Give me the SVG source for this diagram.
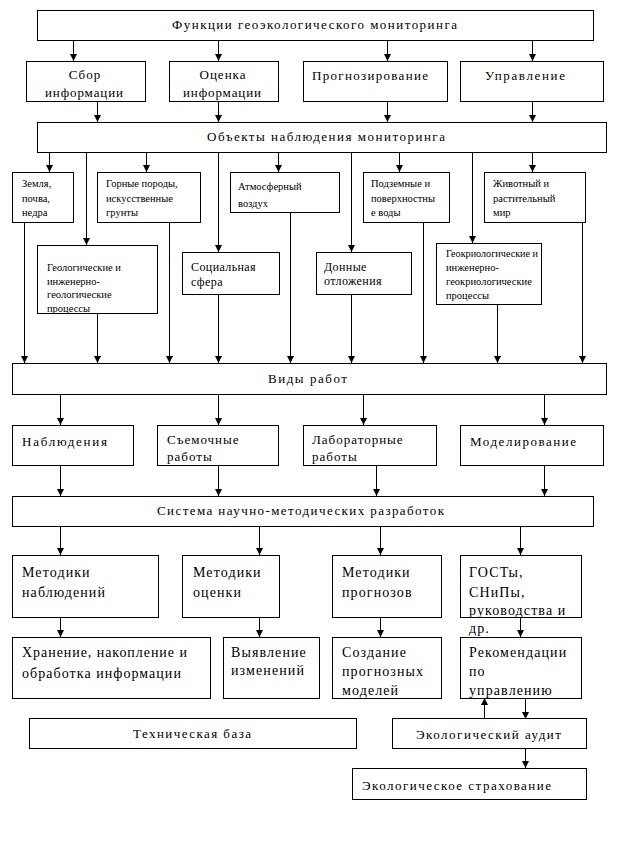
<svg xmlns="http://www.w3.org/2000/svg" width="619" height="851" viewBox="0 0 619 851" font-family="'Liberation Serif', 'DejaVu Serif', serif">
<style>
rect{fill:#fff;stroke:#000;stroke-width:1}
text{font-family:'Liberation Serif','DejaVu Serif',serif;fill:#000}
.m{font-size:13px;letter-spacing:1px}
.c{text-anchor:middle}
.s{font-size:10.5px;letter-spacing:0px}
.s12{font-size:12px;letter-spacing:0.4px}
.b{font-size:14px;letter-spacing:1.1px}
#connectors line{stroke:#000;stroke-width:1;marker-end:url(#arr)}
</style>
<defs>
<marker id="arr" viewBox="0 0 8 8" refX="8" refY="4" markerWidth="8" markerHeight="7" markerUnits="userSpaceOnUse" orient="auto">
<path d="M0,0 L8,4 L0,8 z" fill="#000"/>
</marker>
</defs>
<rect x="0" y="0" width="619" height="851" style="stroke:none"/>

<g id="connectors">
<line x1="73.5" y1="40" x2="73.5" y2="61"/>
<line x1="218.5" y1="40" x2="218.5" y2="61"/>
<line x1="387.5" y1="40" x2="387.5" y2="61"/>
<line x1="532.5" y1="40" x2="532.5" y2="61"/>
<line x1="97.5" y1="101" x2="97.5" y2="122"/>
<line x1="218.5" y1="101" x2="218.5" y2="122"/>
<line x1="387.5" y1="101" x2="387.5" y2="122"/>
<line x1="532.5" y1="101" x2="532.5" y2="122"/>
<line x1="49.5" y1="152" x2="49.5" y2="172"/>
<line x1="86.5" y1="152" x2="86.5" y2="245"/>
<line x1="146.5" y1="152" x2="146.5" y2="172"/>
<line x1="218.5" y1="152" x2="218.5" y2="252"/>
<line x1="278.5" y1="152" x2="278.5" y2="172"/>
<line x1="351.5" y1="152" x2="351.5" y2="252"/>
<line x1="399.5" y1="152" x2="399.5" y2="172"/>
<line x1="472.5" y1="152" x2="472.5" y2="243"/>
<line x1="532.5" y1="152" x2="532.5" y2="172"/>
<line x1="24.5" y1="222" x2="24.5" y2="363"/>
<line x1="97.5" y1="313" x2="97.5" y2="363"/>
<line x1="169.5" y1="222" x2="169.5" y2="363"/>
<line x1="218.5" y1="294" x2="218.5" y2="363"/>
<line x1="290.5" y1="212" x2="290.5" y2="363"/>
<line x1="351.5" y1="294" x2="351.5" y2="363"/>
<line x1="423.5" y1="222" x2="423.5" y2="363"/>
<line x1="497.5" y1="304" x2="497.5" y2="363"/>
<line x1="582.5" y1="222" x2="582.5" y2="363"/>
<line x1="60.5" y1="394" x2="60.5" y2="425"/>
<line x1="218.5" y1="394" x2="218.5" y2="425"/>
<line x1="363.5" y1="394" x2="363.5" y2="425"/>
<line x1="544.5" y1="394" x2="544.5" y2="425"/>
<line x1="60.5" y1="465" x2="60.5" y2="496"/>
<line x1="218.5" y1="465" x2="218.5" y2="496"/>
<line x1="376.5" y1="465" x2="376.5" y2="496"/>
<line x1="544.5" y1="465" x2="544.5" y2="496"/>
<line x1="60.5" y1="526" x2="60.5" y2="555"/>
<line x1="259.5" y1="526" x2="259.5" y2="555"/>
<line x1="380.5" y1="526" x2="380.5" y2="555"/>
<line x1="520.5" y1="526" x2="520.5" y2="555"/>
<line x1="60.5" y1="617" x2="60.5" y2="637"/>
<line x1="259.5" y1="617" x2="259.5" y2="637"/>
<line x1="380.5" y1="617" x2="380.5" y2="637"/>
<line x1="520.5" y1="617" x2="520.5" y2="637"/>
<line x1="525.5" y1="698" x2="525.5" y2="719"/>
<line x1="484.5" y1="719" x2="484.5" y2="698"/>
<line x1="525.5" y1="748" x2="525.5" y2="768"/>
</g>

<g id="n-functions"><rect x="37.5" y="10.5" width="556" height="30"/><text class="m" x="172" y="29" textLength="286" lengthAdjust="spacing">Функции геоэкологического мониторинга</text></g>
<g id="n-sbor"><rect x="26.5" y="61.5" width="119" height="40"/><text class="m c" x="85" y="79">Сбор</text><text class="m" x="45" y="97" textLength="79" lengthAdjust="spacing">информации</text></g>
<g id="n-ocenka"><rect x="169.5" y="61.5" width="109" height="40"/><text class="m c" x="223" y="79">Оценка</text><text class="m" x="183" y="97" textLength="79" lengthAdjust="spacing">информации</text></g>
<g id="n-prognoz"><rect x="303.5" y="61.5" width="144" height="40"/><text class="m" x="312" y="80" textLength="117" lengthAdjust="spacing">Прогнозирование</text></g>
<g id="n-uprav"><rect x="460.5" y="61.5" width="143" height="40"/><text class="m" x="485" y="80" textLength="81" lengthAdjust="spacing">Управление</text></g>
<g id="n-objects"><rect x="37.5" y="122.5" width="569" height="30"/><text class="m" x="207" y="141" textLength="239" lengthAdjust="spacing">Объекты наблюдения мониторинга</text></g>

<g id="n-zemlya"><rect x="12.5" y="172.5" width="61" height="50"/><text class="s"><tspan x="22" y="187">Земля,</tspan><tspan x="22" y="201.5">почва,</tspan><tspan x="22" y="216">недра</tspan></text></g>
<g id="n-gornye"><rect x="97.5" y="172.5" width="103" height="50"/><text class="s"><tspan x="106" y="187">Горные породы,</tspan><tspan x="106" y="201.5">искусственные</tspan><tspan x="106" y="216">грунты</tspan></text></g>
<g id="n-atm"><rect x="230.5" y="172.5" width="109" height="40"/><text class="s"><tspan x="238" y="190">Атмосферный</tspan><tspan x="238" y="207">воздух</tspan></text></g>
<g id="n-podz"><rect x="363.5" y="172.5" width="86" height="50"/><text class="s"><tspan x="371" y="187">Подземные и</tspan><tspan x="371" y="201.5">поверхностны</tspan><tspan x="371" y="216">е воды</tspan></text></g>
<g id="n-zhiv"><rect x="484.5" y="172.5" width="101" height="50"/><text class="s"><tspan x="493" y="187">Животный и</tspan><tspan x="493" y="201.5">растительный</tspan><tspan x="493" y="216">мир</tspan></text></g>
<g id="n-geol"><rect x="37.5" y="245.5" width="120" height="68"/><text class="s"><tspan x="47" y="271">Геологические и</tspan><tspan x="47" y="284.5">инженерно-</tspan><tspan x="47" y="298">геологические</tspan><tspan x="47" y="311.5">процессы</tspan></text></g>
<g id="n-soc"><rect x="182.5" y="252.5" width="97" height="42"/><text class="s12"><tspan x="191" y="271">Социальная</tspan><tspan x="191" y="286">сфера</tspan></text></g>
<g id="n-donnye"><rect x="316.5" y="252.5" width="95" height="42"/><text class="s12"><tspan x="324" y="271">Донные</tspan><tspan x="324" y="285">отложения</tspan></text></g>
<g id="n-geokrio"><rect x="436.5" y="243.5" width="105" height="61"/><text class="s"><tspan x="446" y="257" textLength="92" lengthAdjust="spacingAndGlyphs">Геокриологические и</tspan><tspan x="446" y="271">инженерно-</tspan><tspan x="446" y="285">геокриологические</tspan><tspan x="446" y="299">процессы</tspan></text></g>

<g id="n-vidy"><rect x="12.5" y="363.5" width="594" height="31"/><text class="m" x="268" y="383" textLength="80" lengthAdjust="spacing">Виды работ</text></g>
<g id="n-nabl"><rect x="12.5" y="425.5" width="121" height="40"/><text class="m" x="22" y="446" textLength="86" lengthAdjust="spacing">Наблюдения</text></g>
<g id="n-siem"><rect x="157.5" y="425.5" width="121" height="40"/><text class="m"><tspan x="167" y="444">Съемочные</tspan><tspan x="167" y="461">работы</tspan></text></g>
<g id="n-lab"><rect x="303.5" y="425.5" width="133" height="40"/><text class="m"><tspan x="312" y="444">Лабораторные</tspan><tspan x="312" y="461">работы</tspan></text></g>
<g id="n-model"><rect x="460.5" y="425.5" width="143" height="40"/><text class="m" x="470" y="446" textLength="107" lengthAdjust="spacing">Моделирование</text></g>
<g id="n-sistema"><rect x="12.5" y="496.5" width="581" height="30"/><text class="m" x="157" y="515" textLength="288" lengthAdjust="spacing">Система научно-методических разработок</text></g>

<g id="n-met-nabl"><rect x="12.5" y="555.5" width="146" height="62"/><text class="b"><tspan x="22" y="577">Методики</tspan><tspan x="22" y="597">наблюдений</tspan></text></g>
<g id="n-met-oc"><rect x="182.5" y="555.5" width="97" height="62"/><text class="b"><tspan x="193" y="577">Методики</tspan><tspan x="193" y="597">оценки</tspan></text></g>
<g id="n-met-pr"><rect x="332.5" y="555.5" width="109" height="62"/><text class="b"><tspan x="342" y="577">Методики</tspan><tspan x="342" y="597">прогнозов</tspan></text></g>
<g id="n-gost"><rect x="460.5" y="555.5" width="121" height="62"/><text class="b"><tspan x="469" y="577">ГОСТы,</tspan><tspan x="469" y="597">СНиПы,</tspan><tspan x="469" y="615">руководства и</tspan><tspan x="469" y="633">др.</tspan></text></g>

<g id="n-hran"><rect x="12.5" y="637.5" width="198" height="61"/><text class="b"><tspan x="22" y="657" textLength="166" lengthAdjust="spacing">Хранение, накопление и</tspan><tspan x="22" y="678" textLength="160" lengthAdjust="spacing">обработка информации</tspan></text></g>
<g id="n-vyyav"><rect x="223.5" y="637.5" width="96" height="61"/><text class="b"><tspan x="231" y="657">Выявление</tspan><tspan x="231" y="675">изменений</tspan></text></g>
<g id="n-sozd"><rect x="332.5" y="637.5" width="109" height="61"/><text class="b"><tspan x="342" y="657">Создание</tspan><tspan x="342" y="676">прогнозных</tspan><tspan x="342" y="695">моделей</tspan></text></g>
<g id="n-rekom"><rect x="460.5" y="637.5" width="121" height="61"/><text class="b"><tspan x="469" y="657">Рекомендации</tspan><tspan x="469" y="676">по</tspan><tspan x="469" y="695">управлению</tspan></text></g>

<g id="n-tech"><rect x="29.5" y="718.5" width="327" height="30"/><text class="m" x="133" y="738" textLength="119" lengthAdjust="spacing">Техническая база</text></g>
<g id="n-audit"><rect x="392.5" y="718.5" width="194" height="30"/><text class="m" x="416" y="739" textLength="146" lengthAdjust="spacing">Экологический аудит</text></g>
<g id="n-strah"><rect x="352.5" y="768.5" width="234" height="31"/><text class="m" x="362" y="790" textLength="190" lengthAdjust="spacing">Экологическое страхование</text></g>
</svg>
